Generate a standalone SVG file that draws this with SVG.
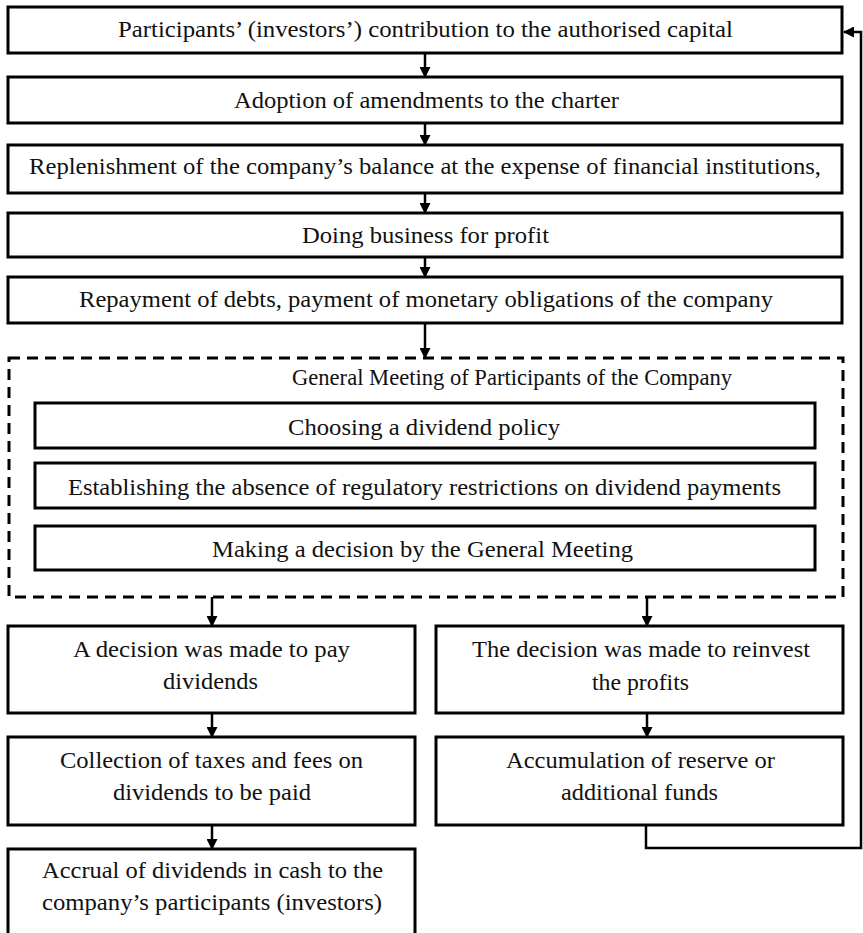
<svg xmlns="http://www.w3.org/2000/svg" width="863" height="933" viewBox="0 0 863 933">
<style>
.box{fill:#fff;stroke:#000;stroke-width:3}
.dash{fill:none;stroke:#000;stroke-width:3;stroke-dasharray:11 7}
.t{font-family:"Liberation Serif","Times New Roman",serif;font-size:23px;fill:#111}
.c{fill:none;stroke:#000;stroke-width:2.5}
</style>
<defs>
<marker id="ah" markerUnits="userSpaceOnUse" markerWidth="11" markerHeight="11" refX="10" refY="5.5" orient="auto">
<path d="M0,0 L11,5.5 L0,11 z" fill="#000"/>
</marker>
</defs>
<rect width="863" height="933" fill="#fff"/>

<g id="connectors">
<line class="c" x1="425" y1="53" x2="425" y2="77" marker-end="url(#ah)"/>
<line class="c" x1="425" y1="123" x2="425" y2="145" marker-end="url(#ah)"/>
<line class="c" x1="425" y1="193" x2="425" y2="213" marker-end="url(#ah)"/>
<line class="c" x1="425" y1="257" x2="425" y2="277" marker-end="url(#ah)"/>
<line class="c" x1="425" y1="323" x2="425" y2="358" marker-end="url(#ah)"/>
<line class="c" x1="212" y1="597" x2="212" y2="626" marker-end="url(#ah)"/>
<line class="c" x1="647" y1="597" x2="647" y2="626" marker-end="url(#ah)"/>
<line class="c" x1="212" y1="713" x2="212" y2="737" marker-end="url(#ah)"/>
<line class="c" x1="212" y1="825" x2="212" y2="849" marker-end="url(#ah)"/>
<line class="c" x1="647" y1="713" x2="647" y2="737" marker-end="url(#ah)"/>
<path class="c" d="M646,825 V848 H861 V32 H844" marker-end="url(#ah)"/>
</g>

<g id="n1">
<rect class="box" x="8" y="7" width="834" height="46"/>
<text class="t" x="118" y="37" textLength="615" lengthAdjust="spacingAndGlyphs">Participants’ (investors’) contribution to the authorised capital</text>
</g>
<g id="n2">
<rect class="box" x="8" y="77" width="834" height="46"/>
<text class="t" x="234" y="108" textLength="385" lengthAdjust="spacingAndGlyphs">Adoption of amendments to the charter</text>
</g>
<g id="n3">
<rect class="box" x="8" y="145" width="834" height="48"/>
<text class="t" x="29" y="174" textLength="792" lengthAdjust="spacingAndGlyphs">Replenishment of the company’s balance at the expense of financial institutions,</text>
</g>
<g id="n4">
<rect class="box" x="8" y="213" width="834" height="44"/>
<text class="t" x="302" y="243" textLength="247" lengthAdjust="spacingAndGlyphs">Doing business for profit</text>
</g>
<g id="n5">
<rect class="box" x="8" y="277" width="834" height="46"/>
<text class="t" x="79" y="307" textLength="694" lengthAdjust="spacingAndGlyphs">Repayment of debts, payment of monetary obligations of the company</text>
</g>

<g id="general-meeting">
<rect class="dash" x="9" y="358" width="834" height="239"/>
<text class="t" x="292" y="385" textLength="440" lengthAdjust="spacingAndGlyphs">General Meeting of Participants of the Company</text>
</g>
<g id="g1">
<rect class="box" x="35" y="403" width="780" height="45"/>
<text class="t" x="288" y="435" textLength="272" lengthAdjust="spacingAndGlyphs">Choosing a dividend policy</text>
</g>
<g id="g2">
<rect class="box" x="35" y="463" width="780" height="45"/>
<text class="t" x="68" y="495" textLength="713" lengthAdjust="spacingAndGlyphs">Establishing the absence of regulatory restrictions on dividend payments</text>
</g>
<g id="g3">
<rect class="box" x="35" y="526" width="780" height="44"/>
<text class="t" x="212" y="557" textLength="421" lengthAdjust="spacingAndGlyphs">Making a decision by the General Meeting</text>
</g>

<g id="l1">
<rect class="box" x="8" y="626" width="407" height="87"/>
<text class="t" x="73" y="657" textLength="277" lengthAdjust="spacingAndGlyphs">A decision was made to pay</text>
<text class="t" x="163" y="689" textLength="95" lengthAdjust="spacingAndGlyphs">dividends</text>
</g>
<g id="l2">
<rect class="box" x="8" y="737" width="407" height="88"/>
<text class="t" x="60" y="768" textLength="303" lengthAdjust="spacingAndGlyphs">Collection of taxes and fees on</text>
<text class="t" x="113" y="800" textLength="198" lengthAdjust="spacingAndGlyphs">dividends to be paid</text>
</g>
<g id="l3">
<rect class="box" x="8" y="849" width="407" height="95"/>
<text class="t" x="42" y="878" textLength="341" lengthAdjust="spacingAndGlyphs">Accrual of dividends in cash to the</text>
<text class="t" x="42" y="910" textLength="340" lengthAdjust="spacingAndGlyphs">company’s participants (investors)</text>
</g>

<g id="r1">
<rect class="box" x="436" y="626" width="407" height="87"/>
<text class="t" x="472" y="657" textLength="338" lengthAdjust="spacingAndGlyphs">The decision was made to reinvest</text>
<text class="t" x="592" y="690" textLength="97" lengthAdjust="spacingAndGlyphs">the profits</text>
</g>
<g id="r2">
<rect class="box" x="436" y="737" width="407" height="88"/>
<text class="t" x="506" y="768" textLength="269" lengthAdjust="spacingAndGlyphs">Accumulation of reserve or</text>
<text class="t" x="561" y="800" textLength="157" lengthAdjust="spacingAndGlyphs">additional funds</text>
</g>
</svg>
